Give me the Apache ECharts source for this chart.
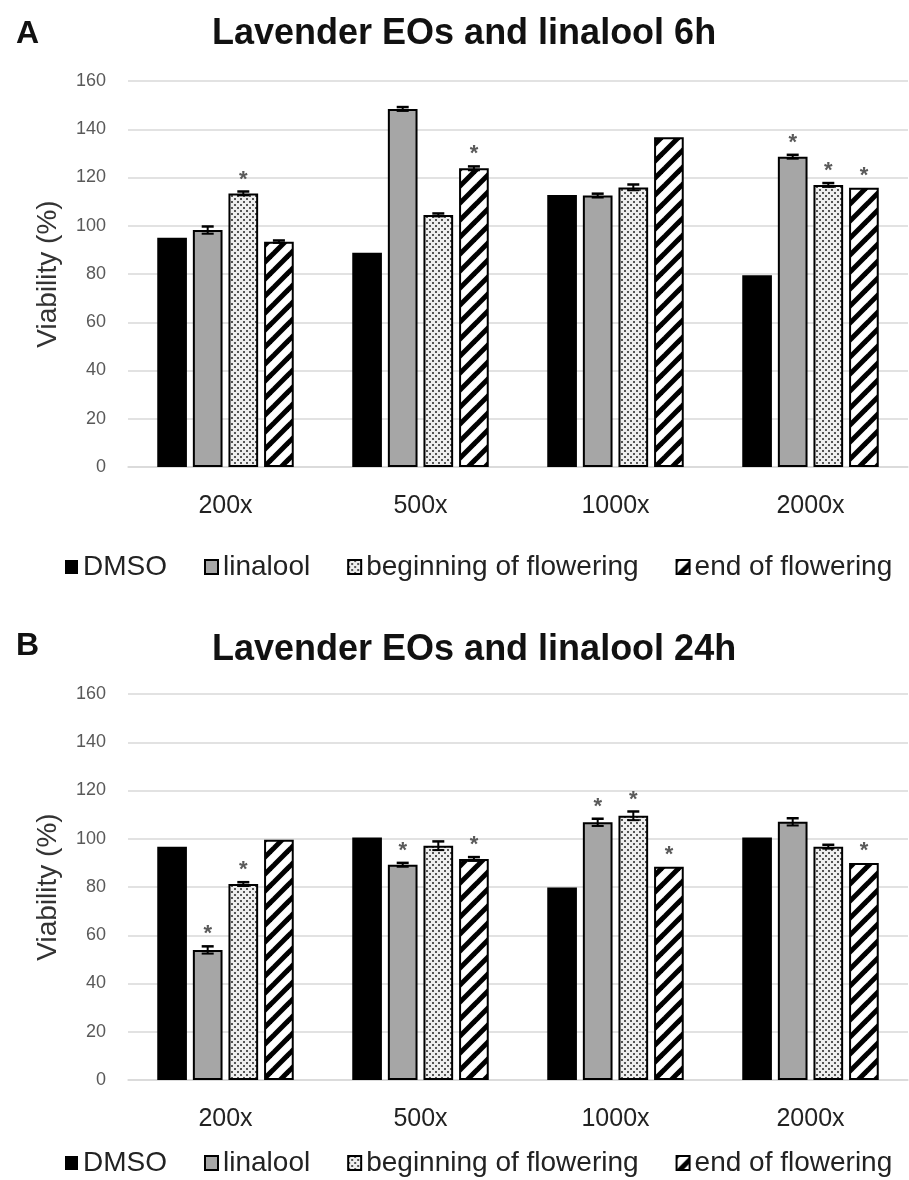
<!DOCTYPE html>
<html><head><meta charset="utf-8">
<script src="https://cdn.jsdelivr.net/npm/echarts@6/dist/echarts.min.js"></script>
<style>html,body{margin:0;padding:0;background:#fff}#c{width:909px;height:1180px}</style>
</head><body><div id="c"></div>
<script>
const categories = ['200x', '500x', '1000x', '2000x'];
const seriesNames = ['DMSO', 'linalool', 'beginning of flowering', 'end of flowering'];
const panelTitles = ['Lavender EOs and linalool 6h', 'Lavender EOs and linalool 24h'];
const panelLetters = ['A', 'B'];
const yAxisName = 'Viability (%)';

// Panel A (6h)
const a_dmso     = [95.0, 88.8, 112.7, 79.5];
const a_linalool = [98.2, 148.4, 112.5, 128.6];
const a_begin    = [113.4, 104.5, 115.9, 116.9];
const a_end      = [93.4, 123.8, 136.7, 115.8];
const a_dmso_err     = [0, 0, 0, 0];
const a_linalool_err = [1.5, 0.8, 0.8, 0.8];
const a_begin_err    = [0.8, 0.6, 1.2, 0.8];
const a_end_err      = [0.5, 0.8, 0, 0];
const a_dmso_sig     = [0, 0, 0, 0];
const a_linalool_sig = [0, 0, 0, 1];
const a_begin_sig    = [1, 0, 0, 1];
const a_end_sig      = [0, 1, 0, 1];

// Panel B (24h)
const b_dmso     = [96.7, 100.5, 79.8, 100.5];
const b_linalool = [53.9, 89.2, 106.8, 107.0];
const b_begin    = [81.2, 97.1, 109.5, 96.7];
const b_end      = [99.6, 91.6, 88.4, 90.0];
const b_dmso_err     = [0, 0, 0, 0];
const b_linalool_err = [1.5, 0.8, 1.5, 1.5];
const b_begin_err    = [0.8, 1.8, 1.8, 0.8];
const b_end_err      = [0, 0.8, 0, 0];
const b_dmso_sig     = [0, 0, 0, 0];
const b_linalool_sig = [1, 1, 1, 0];
const b_begin_sig    = [1, 0, 1, 0];
const b_end_sig      = [0, 1, 1, 1];

const yMin = 0, yMax = 160, yStep = 20;

const FONT = "'Liberation Sans', Arial, sans-serif";

function dotPattern() {
  const c = document.createElement('canvas'); c.width = 6; c.height = 6;
  const g = c.getContext('2d');
  g.fillStyle = '#eeeeee'; g.fillRect(0, 0, 6, 6);
  g.fillStyle = '#555555';
  g.fillRect(0, 0, 2, 2); g.fillRect(3, 3, 2, 2);
  return { image: c, repeat: 'repeat' };
}
function hatchPattern() {
  const s = 17;
  const c = document.createElement('canvas'); c.width = s; c.height = s;
  const g = c.getContext('2d');
  g.fillStyle = '#ffffff'; g.fillRect(0, 0, s, s);
  g.strokeStyle = '#000'; g.lineWidth = 5;
  [[-s, 0], [0, 0], [s, 0]].forEach(([dx]) => {
    g.beginPath(); g.moveTo(dx - 2, s + 2); g.lineTo(dx + s + 2, -2); g.stroke();
  });
  return { image: c, repeat: 'repeat' };
}

const styles = [
  { color: '#000000', borderColor: '#000', borderWidth: 0 },
  { color: '#a6a6a6', borderColor: '#000', borderWidth: 2 },
  { color: dotPattern(), borderColor: '#000', borderWidth: 2 },
  { color: hatchPattern(), borderColor: '#000', borderWidth: 2 }
];

const panels = [
  { vals: [a_dmso, a_linalool, a_begin, a_end], errs: [a_dmso_err, a_linalool_err, a_begin_err, a_end_err], sigs: [a_dmso_sig, a_linalool_sig, a_begin_sig, a_end_sig] },
  { vals: [b_dmso, b_linalool, b_begin, b_end], errs: [b_dmso_err, b_linalool_err, b_begin_err, b_end_err], sigs: [b_dmso_sig, b_linalool_sig, b_begin_sig, b_end_sig] }
];

const gridTops = [81, 694];
const gridH = 386;
const legendTops = [548, 1144];
const letterTops = [18, 630];
const titleTops = [16, 632];

function errRender(params, api) {
  const i = api.value(0), v = api.value(1), e = api.value(2), sig = api.value(3), k = api.value(4);
  const c = api.coord([i, v]);
  const catW = api.size([1, 0])[0];
  const w = catW * 0.7 / 4.6;
  const x = c[0] - catW * 0.35 + k * 1.2 * w + w / 2;
  const top = api.coord([i, v + e])[1];
  const bot = api.coord([i, v - e])[1];
  const children = [];
  if (e > 0) {
    const st = { stroke: '#000', lineWidth: 2 };
    children.push({ type: 'line', shape: { x1: x, y1: top, x2: x, y2: bot }, style: st });
    children.push({ type: 'line', shape: { x1: x - 6, y1: top, x2: x + 6, y2: top }, style: { stroke: '#000', lineWidth: 2.5 } });
    children.push({ type: 'line', shape: { x1: x - 6, y1: bot, x2: x + 6, y2: bot }, style: st });
  }
  if (sig) {
    children.push({ type: 'text', style: { text: '*', x: x, y: top - 12, align: 'center', verticalAlign: 'middle', font: 'bold 22px ' + FONT, fill: '#5a5a5a' } });
  }
  return { type: 'group', children };
}

const grid = [], xAxis = [], yAxis = [], series = [], legend = [], graphic = [];
panels.forEach((p, pi) => {
  grid.push({ left: 128, right: 1, top: gridTops[pi], height: gridH });
  xAxis.push({
    type: 'category', gridIndex: pi, data: categories,
    axisLine: { lineStyle: { color: '#d9d9d9', width: 1.5 } }, axisTick: { show: false },
    axisLabel: { color: '#222', fontSize: 25, fontFamily: FONT, margin: 27 }
  });
  yAxis.push({
    type: 'value', gridIndex: pi, min: yMin, max: yMax, interval: yStep,
    name: yAxisName, nameLocation: 'middle', nameGap: 66,
    nameTextStyle: { color: '#333', fontSize: 28, fontFamily: FONT },
    axisLine: { show: false }, axisTick: { show: false },
    axisLabel: { color: '#595959', fontSize: 18, fontFamily: FONT, margin: 22 },
    splitLine: { lineStyle: { color: '#d9d9d9', width: 1.5 } }
  });
  p.vals.forEach((vals, k) => {
    series.push({
      type: 'bar', name: seriesNames[k], xAxisIndex: pi, yAxisIndex: pi,
      data: vals, barCategoryGap: '30%', barGap: '20%',
      itemStyle: styles[k], emphasis: { disabled: true }, z: 2
    });
  });
  const edata = [];
  p.vals.forEach((vals, k) => vals.forEach((v, i) => edata.push([i, v, p.errs[k][i], p.sigs[k][i], k])));
  series.push({
    type: 'custom', xAxisIndex: pi, yAxisIndex: pi, renderItem: errRender,
    data: edata, encode: { x: 0, y: 1 }, z: 5, silent: true
  });
  legend.push({
    data: seriesNames, top: legendTops[pi], left: 60, icon: 'rect', itemWidth: 13, itemHeight: 14, itemGap: 37,
    textStyle: { color: '#222', fontSize: 28, fontFamily: FONT },
    selectedMode: false
  });
  graphic.push({ type: 'text', left: 16, top: letterTops[pi], style: { text: panelLetters[pi], font: 'bold 32px ' + FONT, fill: '#111' } });
  graphic.push({ type: 'text', left: 212, top: titleTops[pi], style: { text: panelTitles[pi], font: 'bold 36px ' + FONT, fill: '#111' } });
});

const chart = echarts.init(document.getElementById('c'), null, { renderer: 'canvas' });
chart.setOption({ animation: false, backgroundColor: '#fff', grid, xAxis, yAxis, series, legend, graphic });
</script>
</body></html>
